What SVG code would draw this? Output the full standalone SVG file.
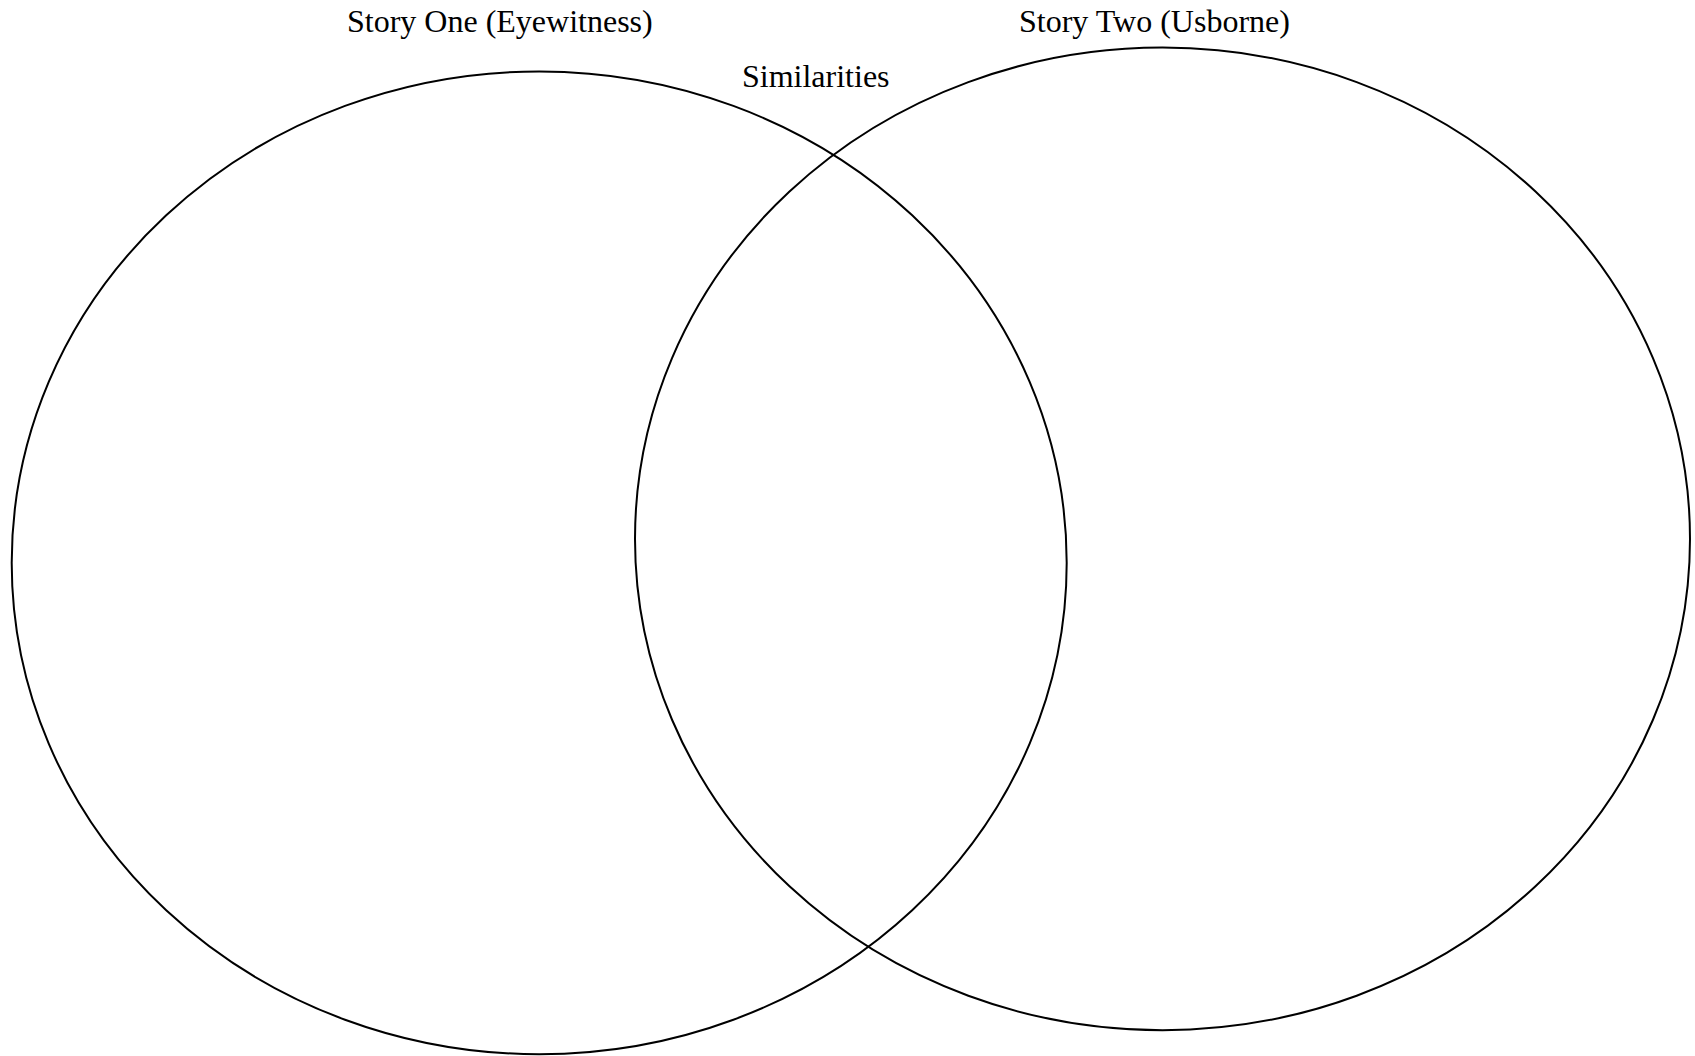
<svg xmlns="http://www.w3.org/2000/svg" width="1695" height="1056" viewBox="0 0 1695 1056">
<style>
.c{fill:none;stroke:#000;stroke-width:2}
.t{font-family:"Liberation Serif","Times New Roman",serif;font-size:32px;fill:#000}
</style>
<rect width="1695" height="1056" fill="#fff"/>
<g id="story-one"><ellipse class="c" cx="539.2" cy="562.8" rx="527.5" ry="491.4"/><text class="t" x="347" y="31.5">Story One (Eyewitness)</text></g>
<g id="story-two"><ellipse class="c" cx="1162.5" cy="538.9" rx="527.5" ry="491.3"/><text class="t" x="1019" y="31.5">Story Two (Usborne)</text></g>
<g id="similarities"><text class="t" x="742" y="87">Similarities</text></g>
<g id="connectors"></g>
</svg>
